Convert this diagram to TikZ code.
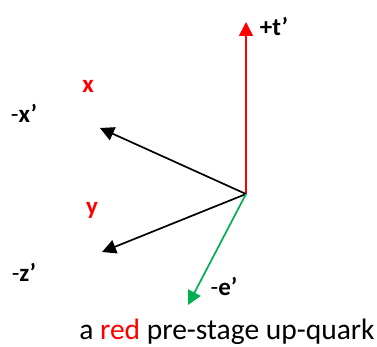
\documentclass[tikz,border=0pt]{standalone}
\usepackage{fontspec}
\setmainfont{Carlito}
\usetikzlibrary{arrows.meta}
\definecolor{myred}{RGB}{255,0,0}
\definecolor{mygreen}{RGB}{0,176,80}
\begin{document}
\begin{tikzpicture}[x=1pt,y=-1pt,
  vec/.style={line width=1.7pt,-{Triangle[length=14pt,width=14pt]}},
  lab/.style={font=\fontsize{25}{28}\selectfont\bfseries,inner sep=0pt},
  rlab/.style={lab,text=myred}]
\useasboundingbox (0,0) rectangle (377,347);
\coordinate (O) at (246,194);
\coordinate (T) at (246,22);
\coordinate (X) at (100,128);
\coordinate (Z) at (102,252);
\coordinate (E) at (188,305);
\draw[vec,myred] (O) -- (T);
\draw[vec,black] (O) -- (X);
\draw[vec,black] (O) -- (Z);
\draw[vec,mygreen] (O) -- (E);
\node[lab] (tl) at (274,27) {+t’};
\node[rlab] (xl) at (88,86) {x};
\node[lab] (xpl) at (24,113) {{\mdseries -}x’};
\node[rlab] (yl) at (92,210) {y};
\node[lab] (zpl) at (24,272) {{\mdseries -}z’};
\node[lab] (epl) at (224,286) {{\mdseries -}e’};
\node[font=\fontsize{29.5}{33}\selectfont,inner sep=0pt,anchor=base] (cap) at (227,339.5) {a \textcolor{myred}{red} pre-stage up-quark};
\end{tikzpicture}
\end{document}
